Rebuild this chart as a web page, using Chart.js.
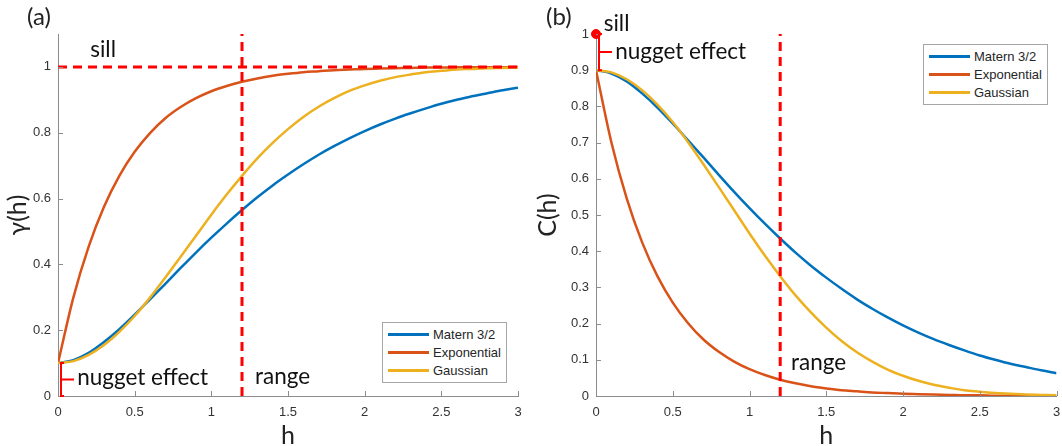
<!DOCTYPE html>
<html>
<head>
<meta charset="utf-8">
<script src="https://cdn.jsdelivr.net/npm/chart.js@4.4.1/dist/chart.umd.min.js"></script>
<style>
  body { margin: 0; background: #fff; }
  #wrap { position: relative; width: 1062px; height: 446px; overflow: hidden; background: #fff; }
  #wrap canvas { position: absolute; top: 0; }
  .legend { position: absolute; background: #fff; border: 1px solid #a6a6a6; font: 13px "Liberation Sans", Arial, sans-serif; color: #262626; padding: 3px 5px 2px 5px; }
  .legend div { height: 18px; line-height: 18px; white-space: nowrap; }
  .legend span { display: inline-block; width: 41px; height: 3px; vertical-align: middle; margin-right: 4px; position: relative; top: -1px; }
  .panel { position: absolute; font: 24px Lato, sans-serif; color: #222; }
</style>
</head>
<body>
<div id="wrap">
  <canvas id="chartA" width="531" height="446" style="left:0"></canvas>
  <canvas id="chartB" width="531" height="446" style="left:531px"></canvas>
  <div class="panel" style="left:27px; top:1px">(a)</div>
  <div class="panel" style="left:546px; top:1px">(b)</div>
  <div class="legend" style="left:382px; top:322px">
    <div><span style="background:#0072BD"></span>Matern 3/2</div>
    <div><span style="background:#D95319"></span>Exponential</div>
    <div><span style="background:#EDB120"></span>Gaussian</div>
  </div>
  <div class="legend" style="left:923px; top:44px">
    <div><span style="background:#0072BD"></span>Matern 3/2</div>
    <div><span style="background:#D95319"></span>Exponential</div>
    <div><span style="background:#EDB120"></span>Gaussian</div>
  </div>
</div>
<script>
// lag distance
var h = [0, 0.1, 0.2, 0.3, 0.4, 0.5, 0.6, 0.7, 0.8, 0.9, 1.0, 1.1, 1.2, 1.3, 1.4, 1.5,
  1.6, 1.7, 1.8, 1.9, 2.0, 2.1, 2.2, 2.3, 2.4, 2.5, 2.6, 2.7, 2.8, 2.9, 3.0];

// (a) semivariogram values
var maternGamma = [0.100, 0.109, 0.131, 0.164, 0.203, 0.247, 0.294, 0.341, 0.389, 0.436, 0.481,
  0.524, 0.565, 0.604, 0.640, 0.673, 0.704, 0.733, 0.759, 0.783, 0.805,
  0.825, 0.843, 0.859, 0.874, 0.888, 0.900, 0.911, 0.920, 0.929, 0.937];
var expGamma = [0.100, 0.299, 0.454, 0.575, 0.669, 0.742, 0.799, 0.844, 0.878, 0.905, 0.926,
  0.942, 0.955, 0.965, 0.973, 0.979, 0.984, 0.987, 0.990, 0.992, 0.994,
  0.995, 0.996, 0.997, 0.998, 0.998, 0.999, 0.999, 0.999, 0.999, 1.000];
var gaussGamma = [0.100, 0.106, 0.125, 0.155, 0.195, 0.243, 0.299, 0.360, 0.423, 0.487, 0.551,
  0.612, 0.669, 0.722, 0.769, 0.811, 0.848, 0.879, 0.905, 0.927, 0.944,
  0.958, 0.969, 0.977, 0.984, 0.988, 0.992, 0.994, 0.996, 0.997, 0.998];

// (b) covariance values
var maternCov = [0.900, 0.891, 0.869, 0.836, 0.797, 0.753, 0.706, 0.659, 0.611, 0.564, 0.519,
  0.476, 0.435, 0.396, 0.360, 0.327, 0.296, 0.267, 0.241, 0.217, 0.195,
  0.175, 0.157, 0.141, 0.126, 0.112, 0.100, 0.089, 0.080, 0.071, 0.063];
var expCov = [0.900, 0.701, 0.546, 0.425, 0.331, 0.258, 0.201, 0.156, 0.122, 0.095, 0.074,
  0.058, 0.045, 0.035, 0.027, 0.021, 0.016, 0.013, 0.010, 0.008, 0.006,
  0.005, 0.004, 0.003, 0.002, 0.002, 0.001, 0.001, 0.001, 0.001, 0.000];
var gaussCov = [0.900, 0.894, 0.875, 0.845, 0.805, 0.757, 0.701, 0.640, 0.577, 0.513, 0.449,
  0.388, 0.331, 0.278, 0.231, 0.189, 0.152, 0.121, 0.095, 0.073, 0.056,
  0.042, 0.031, 0.023, 0.016, 0.012, 0.008, 0.006, 0.004, 0.003, 0.002];

var xTicks = [0, 0.5, 1, 1.5, 2, 2.5, 3];
var yTicksA = [0, 0.2, 0.4, 0.6, 0.8, 1];
var yTicksB = [0, 0.1, 0.2, 0.3, 0.4, 0.5, 0.6, 0.7, 0.8, 0.9, 1];

var sill = 1;
var nugget = 0.1;
var range = 1.2;

var BLUE = '#0072BD', ORANGE = '#D95319', YELLOW = '#EDB120', RED = '#FF0000';
var AXIS = '#8c8c8c';
var textFont = '22.5px Lato, sans-serif';

function pts(xs, ys) {
  return xs.map(function (v, i) { return { x: v, y: ys[i] }; });
}

function curve(label, color, values) {
  return {
    label: label, data: pts(h, values), borderColor: color, borderWidth: 2.5,
    pointRadius: 0, cubicInterpolationMode: 'monotone', fill: false
  };
}

function dashed(data) {
  return {
    data: data, borderColor: RED, borderWidth: 3, borderDash: [9, 6],
    pointRadius: 0, fill: false, clip: false
  };
}

// inward tick marks, nugget bracket and text notes
var extras = {
  id: 'extras',
  afterDraw: function (chart, args, opts) {
    var ctx = chart.ctx, xs = chart.scales.x, ys = chart.scales.y;
    ctx.save();
    ctx.strokeStyle = AXIS;
    ctx.lineWidth = 1;
    xs.ticks.forEach(function (t) {
      var px = Math.round(xs.getPixelForValue(t.value)) + 0.5;
      ctx.beginPath(); ctx.moveTo(px, ys.bottom); ctx.lineTo(px, ys.bottom - 5); ctx.stroke();
    });
    ys.ticks.forEach(function (t) {
      var py = Math.round(ys.getPixelForValue(t.value)) + 0.5;
      ctx.beginPath(); ctx.moveTo(xs.left, py); ctx.lineTo(xs.left + 5, py); ctx.stroke();
    });

    // nugget bracket
    var b = opts.bracket;
    var bx = xs.getPixelForValue(0) + 3;
    var y1 = ys.getPixelForValue(b[0]), y2 = ys.getPixelForValue(b[1]);
    var ym = (y1 + y2) / 2;
    ctx.strokeStyle = RED;
    ctx.lineWidth = 2;
    ctx.beginPath();
    ctx.moveTo(bx + 3, y1); ctx.lineTo(bx, y1); ctx.lineTo(bx, y2); ctx.lineTo(bx + 3, y2);
    ctx.moveTo(bx, ym); ctx.lineTo(bx + 13, ym);
    ctx.stroke();

    ctx.fillStyle = '#111';
    ctx.font = textFont;
    ctx.textBaseline = 'middle';
    ctx.textAlign = 'left';
    opts.notes.forEach(function (n) {
      ctx.fillText(n.text, xs.getPixelForValue(n.x), ys.getPixelForValue(n.y));
    });
    ctx.restore();
  }
};

function options(yMax, yTicks, yTitle, yWidth, titlePad, padRight, notes, bracket) {
  return {
    responsive: false,
    animation: false,
    layout: { padding: { top: 34, right: padRight, left: 0, bottom: 0 } },
    plugins: {
      legend: { display: false },
      tooltip: { enabled: false },
      extras: { notes: notes, bracket: bracket }
    },
    scales: {
      x: {
        type: 'linear', min: 0, max: 3,
        grid: { display: false, drawTicks: false },
        border: { display: true, color: AXIS, width: 1 },
        afterBuildTicks: function (s) { s.ticks = xTicks.map(function (v) { return { value: v }; }); },
        afterFit: function (s) { s.height = 50; s.paddingRight = 0; s.paddingLeft = 0; },
        ticks: {
          padding: 9, color: '#333', font: { family: 'Liberation Sans', size: 13 },
          maxRotation: 0, autoSkip: false,
          callback: function (v) { return String(v); }
        },
        title: { display: true, text: 'h', color: '#222', font: { family: 'Lato', size: 25, lineHeight: 0.8 }, padding: { top: 0, bottom: 0 } }
      },
      y: {
        type: 'linear', min: 0, max: yMax,
        grid: { display: false, drawTicks: false },
        border: { display: true, color: AXIS, width: 1 },
        afterBuildTicks: function (s) { s.ticks = yTicks.map(function (v) { return { value: v }; }); },
        afterFit: function (s) { s.width = yWidth; },
        ticks: {
          padding: 7, color: '#333', font: { family: 'Liberation Sans', size: 13 },
          autoSkip: false,
          callback: function (v) { return String(v); }
        },
        title: { display: true, text: yTitle, color: '#222', font: { family: 'Lato', size: 25, lineHeight: 1 }, padding: { top: titlePad, bottom: 0 } }
      }
    }
  };
}

new Chart(document.getElementById('chartA'), {
  type: 'line',
  data: {
    datasets: [
      dashed([{ x: 0, y: sill }, { x: 3, y: sill }]),
      dashed([{ x: range, y: 0 }, { x: range, y: 1.1 }]),
      curve('Gaussian', YELLOW, gaussGamma),
      curve('Exponential', ORANGE, expGamma),
      curve('Matern 3/2', BLUE, maternGamma)
    ]
  },
  options: options(1.1, yTicksA, 'γ(h)', 58, 5, 13, [
    { text: 'sill', x: 0.21, y: 1.052 },
    { text: 'nugget effect', x: 0.125, y: 0.055 },
    { text: 'range', x: 1.285, y: 0.06 }
  ], [nugget, 0]),
  plugins: [extras]
});

new Chart(document.getElementById('chartB'), {
  type: 'line',
  data: {
    datasets: [
      { data: [{ x: 0, y: sill }], showLine: false, pointRadius: 4.5, pointBackgroundColor: RED, pointBorderColor: RED, clip: false },
      dashed([{ x: range, y: 0 }, { x: range, y: 1 }]),
      curve('Gaussian', YELLOW, gaussCov),
      curve('Exponential', ORANGE, expCov),
      curve('Matern 3/2', BLUE, maternCov)
    ]
  },
  options: options(1, yTicksB, 'C(h)', 65, 4, 5, [
    { text: 'sill', x: 0.05, y: 1.027 },
    { text: 'nugget effect', x: 0.125, y: 0.95 },
    { text: 'range', x: 1.27, y: 0.091 }
  ], [sill, sill - nugget]),
  plugins: [extras]
});
</script>
</body>
</html>
